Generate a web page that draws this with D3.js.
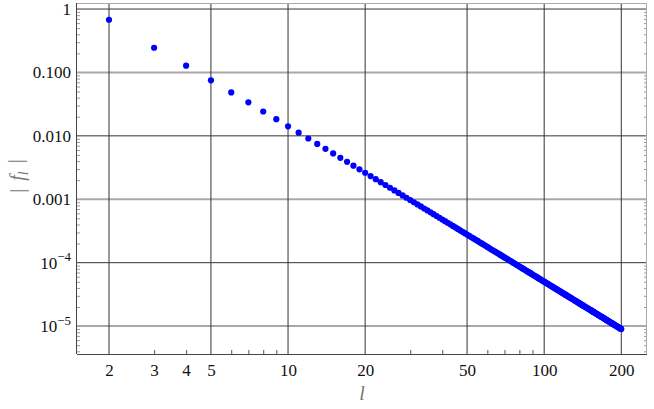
<!DOCTYPE html>
<html><head><meta charset="utf-8">
<script src="https://cdn.jsdelivr.net/npm/d3@7"></script>
<style>
body{margin:0;background:#fff;}
svg{display:block;}
</style></head>
<body><svg id="chart" width="654" height="409"></svg>
<script>
const lValues = [2,3,4,5,6,7,8,9,10,11,12,13,14,15,16,17,18,19,20,21,22,23,24,25,26,27,28,29,30,31,32,33,34,35,36,37,38,39,40,41,42,43,44,45,46,47,48,49,50,
51,52,53,54,55,56,57,58,59,60,61,62,63,64,65,66,67,68,69,70,71,72,73,74,75,76,77,78,79,80,81,82,83,84,85,86,87,88,89,90,91,92,93,94,95,96,97,98,99,100,
101,102,103,104,105,106,107,108,109,110,111,112,113,114,115,116,117,118,119,120,121,122,123,124,125,126,127,128,129,130,131,132,133,134,135,136,137,138,139,140,
141,142,143,144,145,146,147,148,149,150,151,152,153,154,155,156,157,158,159,160,161,162,163,164,165,166,167,168,169,170,171,172,173,174,175,176,177,178,179,180,
181,182,183,184,185,186,187,188,189,190,191,192,193,194,195,196,197,198,199,200];

const fValues = [0.678,0.245,0.128,0.0750,0.0484,0.0338,0.0242,0.0183,0.01412,0.01121,0.00908,0.00747,0.00624,0.00528,0.00451,0.00389,0.00339,0.00297,0.00262,
0.002325,0.002076,0.001862,0.001678,0.001519,0.00138,0.001259,0.001151,0.001056,0.000972,0.000897,0.000830,0.000770,0.000715,0.000666,0.000622,0.000582,0.000545,0.000511,0.000480,
0.000452,0.000426,0.000402,0.000380,0.000360,0.000341,0.000323,0.000307,0.000292,0.000278,
2.64e-4,2.52e-4,2.41e-4,2.30e-4,2.20e-4,2.10e-4,2.01e-4,1.93e-4,1.85e-4,1.77e-4,
1.70e-4,1.63e-4,1.57e-4,1.51e-4,1.455e-4,1.40e-4,1.35e-4,1.30e-4,1.255e-4,1.21e-4,
1.17e-4,1.13e-4,1.092e-4,1.057e-4,1.022e-4,9.89e-5,9.58e-5,9.28e-5,8.99e-5,8.71e-5,
8.45e-5,8.20e-5,7.96e-5,7.73e-5,7.50e-5,7.29e-5,7.08e-5,6.89e-5,6.70e-5,6.51e-5,
6.34e-5,6.17e-5,6.01e-5,5.85e-5,5.70e-5,5.55e-5,5.41e-5,5.28e-5,5.14e-5,5.02e-5,
4.90e-5,4.78e-5,4.67e-5,4.55e-5,4.45e-5,4.34e-5,4.24e-5,4.15e-5,4.05e-5,3.96e-5,
3.88e-5,3.79e-5,3.71e-5,3.63e-5,3.55e-5,3.47e-5,3.40e-5,3.33e-5,3.26e-5,3.19e-5,
3.13e-5,3.07e-5,3.00e-5,2.94e-5,2.89e-5,2.83e-5,2.78e-5,2.72e-5,2.67e-5,2.62e-5,
2.57e-5,2.52e-5,2.48e-5,2.43e-5,2.39e-5,2.34e-5,2.30e-5,2.26e-5,2.22e-5,2.18e-5,
2.14e-5,2.10e-5,2.07e-5,2.03e-5,2.00e-5,1.96e-5,1.93e-5,1.90e-5,1.87e-5,1.84e-5,
1.81e-5,1.78e-5,1.75e-5,1.72e-5,1.69e-5,1.67e-5,1.64e-5,1.61e-5,1.59e-5,1.56e-5,
1.54e-5,1.52e-5,1.49e-5,1.47e-5,1.45e-5,1.43e-5,1.41e-5,1.39e-5,1.37e-5,1.35e-5,
1.33e-5,1.31e-5,1.29e-5,1.27e-5,1.25e-5,1.23e-5,1.22e-5,1.20e-5,1.18e-5,1.17e-5,
1.15e-5,1.14e-5,1.12e-5,1.10e-5,1.09e-5,1.08e-5,1.06e-5,1.05e-5,1.03e-5,1.02e-5,
1.01e-5,9.94e-6,9.81e-6,9.68e-6,9.56e-6,9.44e-6,9.32e-6,9.20e-6,9.09e-6,8.98e-6];

const xTickValues = [2,3,4,5,10,20,50,100,200];
const xTickLabels = ["2","3","4","5","10","20","50","100","200"];
const xGridValues = [2,5,10,20,50,100,200];
const xMinorTicks = [3,4,6,7,8,9,30,40,60,70,80,90];

const yTickValues = [1,0.1,0.01,0.001,1e-4,1e-5];
const yTickBase = ["1","0.100","0.010","0.001","10","10"];
const yTickExp = ["","","","","\u22124","\u22125"];
const yGridDark = [1,0.01,1e-4];
const yGridLight = [0.1,0.001,1e-5];
const yMinorTicks = [2,3,4,5,6,7,8,9,0.2,0.3,0.4,0.5,0.6,0.7,0.8,0.9,0.02,0.03,0.04,0.05,0.06,0.07,0.08,0.09,
 0.002,0.003,0.004,0.005,0.006,0.007,0.008,0.009,2e-4,3e-4,4e-4,5e-4,6e-4,7e-4,8e-4,9e-4,
 2e-5,3e-5,4e-5,5e-5,6e-5,7e-5,8e-5,9e-5,4e-6,5e-6,6e-6,7e-6,8e-6,9e-6];

(function() {
const SERIF = "\"Liberation Serif\"";
const svg = d3.select("#chart");
const pL = 77, pR = 647, pT = 3, pB = 354;
const x = d3.scaleLog().domain([1.5, 252]).range([pL, pR]);
const y = d3.scaleLog().domain([3.63e-6, 1.245]).range([pB, pT]);

const minorY = yMinorTicks.filter(v => v > y.domain()[0] && v < y.domain()[1]);
svg.append("g").attr("transform", `translate(${pL},0)`)
  .call(d3.axisLeft(y).tickValues(minorY).tickSize(-3).tickFormat(""))
  .call(g => { g.select(".domain").remove(); g.selectAll("line").attr("stroke", "#999"); });
svg.append("g").attr("transform", `translate(${pR},0)`)
  .call(d3.axisRight(y).tickValues(minorY).tickSize(-3).tickFormat(""))
  .call(g => { g.select(".domain").remove(); g.selectAll("line").attr("stroke", "#999"); });
svg.append("g").attr("transform", `translate(0,${pB})`)
  .call(d3.axisBottom(x).tickValues(xMinorTicks).tickSize(-4).tickFormat(""))
  .call(g => { g.select(".domain").remove(); g.selectAll("line").attr("stroke", "#555"); });

svg.append("g").selectAll("line").data(yGridLight).join("line")
  .attr("x1", pL).attr("x2", pR).attr("y1", d => y(d)).attr("y2", d => y(d))
  .attr("stroke", "#a8a8a8").attr("stroke-width", 2);
svg.append("g").selectAll("line").data(yGridDark).join("line")
  .attr("x1", pL).attr("x2", pR).attr("y1", d => y(d)).attr("y2", d => y(d))
  .attr("stroke", "#333").attr("stroke-width", 1);
svg.append("g").selectAll("line").data(xGridValues).join("line")
  .attr("x1", d => x(d)).attr("x2", d => x(d)).attr("y1", pT).attr("y2", pB)
  .attr("stroke", "#333").attr("stroke-width", 1);

svg.append("line").attr("x1", pL).attr("x2", pR).attr("y1", pT + 0.5).attr("y2", pT + 0.5).attr("stroke", "#aaa");
svg.append("line").attr("x1", pR - 0.5).attr("x2", pR - 0.5).attr("y1", pT).attr("y2", pB).attr("stroke", "#aaa");

const xAxis = svg.append("g").attr("transform", `translate(0,${pB})`)
  .call(d3.axisBottom(x).tickValues(xTickValues).tickSize(0).tickPadding(10)
    .tickFormat((d, i) => xTickLabels[i]));
xAxis.attr("font-family", null).attr("font-size", null);
xAxis.select(".domain").attr("stroke", "#444").attr("d", `M${pL},0.5H${pR}`);
xAxis.selectAll("text").style("font-size", "17px").attr("fill", "#111")
  .style("font-family", SERIF).attr("dy", "0.70em");

const yAxis = svg.append("g").attr("transform", `translate(${pL},0)`)
  .call(d3.axisLeft(y).tickValues(yTickValues).tickSize(0).tickPadding(6).tickFormat(""));
yAxis.attr("font-family", null).attr("font-size", null);
yAxis.select(".domain").attr("stroke", "#444").attr("d", `M-0.5,${pT}V${pB}`);
yAxis.selectAll(".tick text").each(function(d, i) {
  const t = d3.select(this).style("font-size", "17px").attr("fill", "#111")
    .style("font-family", SERIF).attr("dy", "0.32em");
  t.append("tspan").text(yTickBase[i]);
  if (yTickExp[i]) t.append("tspan").style("font-size", "13px").attr("dy", "-0.55em").text(yTickExp[i]);
});

svg.append("g").selectAll("circle").data(lValues.map((l, i) => [l, fValues[i]])).join("circle")
  .attr("cx", d => x(d[0])).attr("cy", d => y(d[1])).attr("r", 3.1).attr("fill", "#0000ff");

svg.append("text").attr("x", 362).attr("y", 400).attr("text-anchor", "middle")
  .style("font-family", SERIF).style("font-size", "20px").style("font-style", "italic").attr("fill", "#777").text("l");
const yl = svg.append("text").attr("transform", "translate(24,176) rotate(-90)")
  .attr("text-anchor", "middle").style("font-family", SERIF).style("font-size", "20px").attr("fill", "#777");
yl.append("tspan").text("|");
yl.append("tspan").attr("dx", 8).style("font-style", "italic").text("f");
yl.append("tspan").style("font-style", "italic").style("font-size", "14px").attr("dy", "0.3em").text("l");
yl.append("tspan").attr("dx", 8).attr("dy", "-0.3em").text("|");
})();
</script></body></html>
